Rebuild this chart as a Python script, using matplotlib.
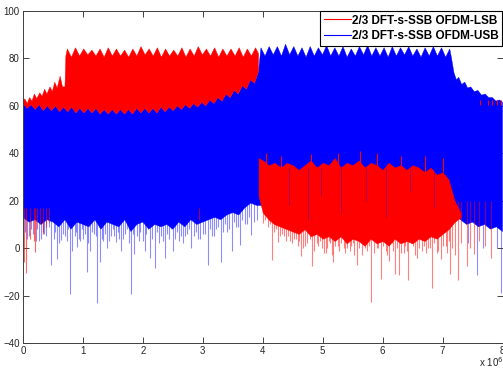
import numpy as np
import matplotlib.pyplot as plt
from matplotlib.lines import Line2D

plt.rcParams['font.family'] = ['Liberation Sans', 'DejaVu Sans']

# ---- values (x in units of 10^6) ----
x_ticks = [0, 1, 2, 3, 4, 5, 6, 7, 8]
y_ticks = [-40, -20, 0, 20, 40, 60, 80, 100]
labels = ['2/3 DFT-s-SSB OFDM-LSB', '2/3 DFT-s-SSB OFDM-USB']

# red (LSB) top edge before its band
lsb_pre_x = [0.00, 0.03, 0.07, 0.11, 0.15, 0.19, 0.23, 0.28, 0.32, 0.36,
             0.40, 0.45, 0.49, 0.53, 0.57, 0.62, 0.66, 0.70]
lsb_pre_y = [61.5, 63, 61, 63.5, 62, 65, 63, 65.5, 64, 67,
             65, 68, 66, 70, 67.5, 72.5, 68, 68]
# red ripple on top of the LSB band (0.74 .. 3.88)
lsb_band_peaks = [84, 84.5, 84, 83.5, 84, 84.5, 84, 83.5, 84, 85, 84, 84.5,
                  84, 83.5, 84.5, 84, 85, 84, 84.5, 84, 84, 84.5, 84, 84.5]
lsb_band_valleys = [80.5, 81, 81.5, 81, 80.5, 81, 81, 80.5, 81, 81.5, 81, 80.5,
                    81, 81, 80.5, 81, 81.5, 81, 80.5, 81, 81, 80.5, 81]
# blue top under the red band (0 .. 3.93)
usb_low_peaks = [61, 60.5, 60.5, 60, 60, 59.5, 59.5, 59, 59, 59,
                 58.5, 58.5, 58.5, 58.5, 59, 59, 59, 59.5, 59.5, 60,
                 60.5, 61, 61.5, 62.5, 63.5, 65, 66.5, 68.5, 71, 74.5]
usb_low_valleys = [59, 58.5, 58, 58, 57.5, 57.5, 57, 57, 57, 56.5,
                   56.5, 56.5, 56.5, 56.5, 57, 57, 57, 57.5, 58, 58.5,
                   59, 59.5, 60, 61, 62, 63.5, 65, 67, 69.5]
# blue ripple on top of the USB band (3.97 .. 7.12)
usb_band_peaks = [84.5, 85, 85, 86, 85, 84.5, 85, 84.5, 85.5, 84.5, 85, 84,
                  85, 85.5, 84.5, 84.5, 85, 84.5, 85, 84, 84.5, 85, 84.5, 84]
usb_band_valleys = [81, 81.5, 81, 81.5, 81, 80.5, 81, 81.5, 81, 81, 80.5, 81,
                    81.5, 81, 81, 80.5, 81, 81.5, 81, 80.5, 81, 81, 80.5]
# blue roll-off after its band
usb_post_x = [7.15, 7.19, 7.23, 7.27, 7.32, 7.37, 7.42, 7.47, 7.53,
              7.59, 7.65, 7.71, 7.77, 7.83, 7.89, 7.95, 8.0]
usb_post_y = [80, 74, 71, 72, 69, 70, 67.5, 68, 66,
              66.5, 64.5, 65, 63.5, 63.5, 62, 62.5, 61.5]
# bottom of solid blue, every 0.1 from 0 to 8
usb_floor = [13, 11, 12, 10, 12, 11, 9, 12,
             8, 11, 10, 9, 12, 8, 11, 10,
             9, 12, 7, 10, 11, 8, 10, 9,
             10, 8, 11, 9, 12, 10, 11, 12,
             13, 12, 14, 15, 14, 17, 19, 18,
             18, 20, 20, 20, 20, 20, 20, 20,
             20, 20, 20, 20, 20, 20, 20, 20,
             20, 20, 20, 20, 20, 20, 20, 20,
             20, 20, 20, 20, 20, 20, 20, 20,
             14, 12, 10, 11, 9, 10, 8, 9, 7]
# solid red outside its band: x = 3.93, 4.0, 4.1 ... 7.3
lsb_out_top = [38, 37, 35, 36, 34, 36, 35, 33, 35, 37,
               34, 36, 35, 38, 34, 36, 35, 37, 34, 36,
               35, 33, 36, 34, 35, 33, 35, 34, 32, 34,
               31, 32, 29, 20, 15]
lsb_out_bot = [22, 15, 12, 10, 9, 8, 7, 6, 8, 5,
               6, 4, 5, 3, 5, 2, 4, 3, 1, 4,
               2, 3, 1, 4, 2, 3, 2, 4, 3, 5,
               4, 6, 8, 11, 13]

# downward spikes (x, lowest value)
usb_spike_x = [0.10, 0.22, 0.30, 0.35, 0.47, 0.56, 0.60, 0.64, 0.70, 0.78,
               0.82, 0.90, 0.95, 1.00, 1.06, 1.12, 1.18, 1.24, 1.28, 1.33,
               1.40, 1.47, 1.55, 1.60, 1.64, 1.70, 1.81, 1.86, 1.93, 2.03,
               2.12, 2.20, 2.27, 2.37, 2.44, 2.50, 2.60, 2.70, 2.81, 2.92,
               3.00, 3.09, 3.15, 3.22, 3.30, 3.40, 3.49, 3.55, 3.62, 3.70,
               3.81, 3.90, 7.42, 7.57, 7.68, 7.90, 7.97]
usb_spike_y = [5, 3, 4, 6, -7, -4.5, 2, 3.5, 5, -19.5,
               -1, 0.5, 3, 4, -10, -1, 6, -23, -6, 3,
               0, 5, 2.5, 4, -1, 6, -19.5, -2.5, 3, -1,
               -4, -8.5, 2, -4, 4, -1, 3, 5, 0, 4,
               6, -7, 5, 8, -6, 7, -1, 9, 1.5, 10,
               5.5, 12, 2, -11.5, 0, 0, -19]
# shallower blue fringe below the solid blue
usb_fringe_x = [0.03, 0.07, 0.13, 0.17, 0.26, 0.33, 0.39, 0.43, 0.51, 0.53,
                0.67, 0.73, 0.75, 0.86, 0.88, 0.93, 0.98, 1.03, 1.09, 1.15,
                1.21, 1.26, 1.31, 1.36, 1.44, 1.50, 1.52, 1.58, 1.67, 1.73,
                1.77, 1.84, 1.90, 1.96, 2.00, 2.06, 2.09, 2.15, 2.24, 2.31,
                2.34, 2.41, 2.47, 2.54, 2.57, 2.64, 2.67, 2.74, 2.77, 2.85,
                2.89, 2.96, 3.04, 3.12, 3.18, 3.26, 3.34, 3.37, 3.44, 3.52,
                3.58, 3.66, 3.74, 3.77, 3.85]
usb_fringe_y = [7, 4, 8, 6, 3, 7, 5, 9, 4, 7,
                6, 3, 8, 5, 7, 4, 8, 6, 2, 7,
                5, 9, 4, 6, 3, 8, 5, 7, 4, 8,
                2, 6, 5, 7, 3, 6, 8, 4, 7, 5,
                3, 6, 8, 4, 7, 5, 2, 6, 8, 5,
                7, 4, 6, 8, 5, 9, 7, 10, 8, 11,
                9, 12, 10, 13, 11]
lsb_spike_x = [4.00, 4.15, 4.25, 4.35, 4.45, 4.55, 4.64, 4.70, 4.83, 4.90,
               4.99, 5.05, 5.10, 5.18, 5.25, 5.35, 5.45, 5.50, 5.58, 5.65,
               5.70, 5.81, 5.90, 5.98, 6.05, 6.10, 6.15, 6.21, 6.27, 6.35,
               6.43, 6.50, 6.58, 6.65, 6.75, 6.82, 6.90, 6.97, 7.05, 7.13,
               7.20, 7.25, 7.30, 7.40, 7.45, 7.53, 7.60, 7.70, 7.81]
lsb_spike_y = [10.5, -5, 2.5, 5, 3, 4, -3.5, 1, -7.5, 2,
               0, -2, 3, -6, 1, 0, -1, 2, -7, -3,
               0, -22.5, 0, -13, -1, -5.5, 2, -11, -11.5, -2,
               -13.5, 1, -4, -1, 0, -17, -2, -4.5, 1, -11,
               -3, -13.5, 2, -7.5, 0, -2.5, 3, 1, -4]
# shallower red fringe below the solid red
lsb_fringe_x = [4.03, 4.08, 4.12, 4.19, 4.22, 4.29, 4.32, 4.39, 4.42, 4.49,
                4.52, 4.58, 4.61, 4.67, 4.74, 4.78, 4.86, 4.93, 4.96, 5.02,
                5.08, 5.13, 5.15, 5.21, 5.28, 5.31, 5.38, 5.41, 5.48, 5.53,
                5.61, 5.68, 5.74, 5.77, 5.85, 5.93, 6.01, 6.07, 6.12, 6.18,
                6.24, 6.31, 6.38, 6.41, 6.47, 6.54, 6.61, 6.69, 6.72, 6.79,
                6.86, 6.93, 7.00, 7.08, 7.10, 7.16]
lsb_fringe_y = [12, 9, 10, 7, 8, 5, 6, 3, 5, 2,
                4, 1, 3, 0, 2, 4, -1, 1, 3, -2,
                0, 2, -3, 1, -1, 2, -2, 0, 1, -3,
                0, 2, -1, 1, -2, 0, 1, -3, 2, -1,
                0, -2, 1, -1, 2, -3, 0, 1, -2, 0,
                2, -1, 1, -2, 3, 0]
lsb_left_x = [0.01, 0.05, 0.12, 0.18, 0.20, 0.24, 0.28, 0.33, 0.38, 0.43, 2.93]
lsb_left_y = [-6, -10.5, 4, 3, -1.5, 8, 10, 6, 9, 11, 12]
# red peaks sticking up out of the red block
lsb_up_x = [4.05, 4.3, 4.8, 5.25, 5.62, 5.9, 6.3, 6.7, 7.0]
lsb_up_y = [40, 39, 39.5, 40, 41, 40, 39, 39, 38]
# blue lines seen through the red block
usb_thru_x = [4.43, 4.75, 4.98, 5.3, 5.72, 6.05, 6.45, 6.85]
usb_thru_lo = [18, 12, 22, 15, 20, 13, 24, 17]
# red bits above the blue roll-off
lsb_tail_x = [7.62, 7.75, 7.82, 7.9, 7.97]


def ripple(x0, x1, peaks, valleys):
    xs = np.linspace(x0, x1, len(peaks) + len(valleys))
    ys = np.empty(len(xs))
    ys[0::2] = peaks
    ys[1::2] = valleys
    return xs, ys


red = '#ff0000'
blue = '#0000ff'

fig = plt.figure(figsize=(5.03, 3.69), dpi=100)
ax = fig.add_axes([23 / 503, 26 / 369, 479.5 / 503, 332 / 369])

# blue (USB) block
lx, ly = ripple(0.0, 3.93, usb_low_peaks, usb_low_valleys)
bx, by = ripple(3.97, 7.12, usb_band_peaks, usb_band_valleys)
top_x = np.concatenate([lx, bx, usb_post_x])
top_y = np.concatenate([ly, by, usb_post_y])
floor_x = np.linspace(0, 8, len(usb_floor))
ax.fill(np.concatenate([top_x, floor_x[::-1]]),
        np.concatenate([top_y, np.array(usb_floor)[::-1]]),
        color=blue, lw=0.3, zorder=2)
ax.vlines(usb_spike_x, usb_spike_y, 20, color=blue, lw=0.8, alpha=0.45, zorder=1)
ax.vlines(usb_fringe_x, usb_fringe_y, 20, color=blue, lw=0.8, alpha=0.45, zorder=1)

# red (LSB) block over its band
rx, ry = ripple(0.74, 3.88, lsb_band_peaks, lsb_band_valleys)
rtop_x = np.concatenate([lsb_pre_x, [0.715], rx, [3.93]])
rtop_y = np.concatenate([lsb_pre_y, [81], ry, [82]])
ax.fill(np.concatenate([rtop_x, lx[::-1]]),
        np.concatenate([rtop_y, ly[::-1]]),
        color=red, lw=0.3, zorder=4)

# red outside its band
out_x = np.concatenate([[3.93], np.linspace(4.0, 7.3, len(lsb_out_top) - 1)])
ax.fill_between(out_x, lsb_out_bot, lsb_out_top, color=red, lw=0.3, zorder=4)
ax.vlines(lsb_spike_x, lsb_spike_y, 20, color=red, lw=0.8, alpha=0.5, zorder=3)
ax.vlines(lsb_fringe_x, lsb_fringe_y, 20, color=red, lw=0.8, alpha=0.5, zorder=3)
ax.vlines(lsb_left_x, lsb_left_y, 17, color=red, lw=0.8, alpha=0.6, zorder=3)
ax.vlines(lsb_up_x, 32, lsb_up_y, color=red, lw=0.8, zorder=4)
ax.vlines(usb_thru_x, usb_thru_lo, 34, color=blue, lw=0.6, alpha=0.35, zorder=5)
ax.vlines(lsb_tail_x, 60.5, 62.5, color=red, lw=0.8, zorder=3)

ax.set_xlim(0, 8)
ax.set_ylim(-40, 100)
ax.set_xticks(x_ticks)
ax.set_yticks(y_ticks)
ax.tick_params(direction='in', length=4, width=0.6, top=True, right=True,
               labelsize=7, colors='#262626', pad=2.5)
for s in ax.spines.values():
    s.set_linewidth(0.7)
    s.set_color('#404040')
    s.set_zorder(6)

handles = [Line2D([], [], color=red, lw=0.8), Line2D([], [], color=blue, lw=0.8)]
leg = ax.legend(handles, labels, loc='upper left',
                bbox_to_anchor=((320 - 23) / 479.5, 1.0), borderaxespad=0,
                fancybox=False, framealpha=1, edgecolor='black',
                prop={'weight': 'bold', 'size': 8.5}, handlelength=2.3,
                handletextpad=0.1, labelspacing=0.3, borderpad=0.3)
leg.get_frame().set_linewidth(0.8)
leg.set_zorder(10)

fig.text(479 / 503, 2 / 369, r'x 10$^{6}$', fontsize=7, color='#262626')

fig.savefig('out.png', dpi=100)
